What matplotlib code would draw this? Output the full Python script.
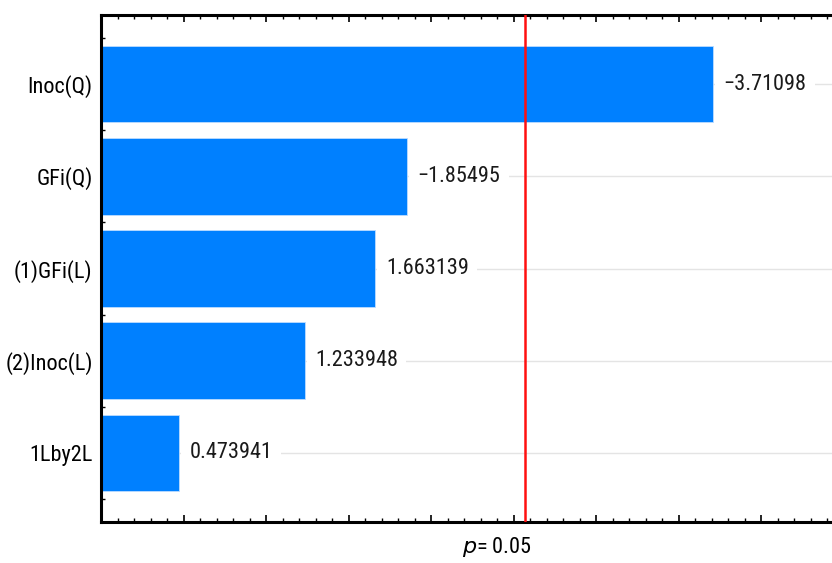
import matplotlib
matplotlib.use('Agg')
import matplotlib.pyplot as plt
from matplotlib.ticker import MultipleLocator, NullFormatter

# standardized effect estimates (absolute value drawn)
labels = ['Inoc(Q)', 'GFi(Q)', '(1)GFi(L)', '(2)Inoc(L)', '1Lby2L']
effects = [-3.71098, -1.85495, 1.663139, 1.233948, 0.473941]
effect_text = ['\u22123.71098', '\u22121.85495', '1.663139', '1.233948', '0.473941']
p_line = 2.570582  # t critical, p = 0.05

plt.rcParams['font.family'] = ['Liberation Sans Narrow', 'Roboto Condensed',
                               'Archivo Narrow', 'Liberation Sans', 'DejaVu Sans']

fig = plt.figure(figsize=(8.32, 5.63), dpi=100)
ax = fig.add_axes([101 / 832, 41 / 563, 792 / 832, 507 / 563])

pos = list(range(len(labels)))
sizes = [abs(e) for e in effects]

for y in pos:
    ax.axhline(y, color='#e4e4e4', lw=1.0, zorder=0)

ax.barh(pos, sizes, height=0.83, color='#0080ff', edgecolor='#bcdcff',
        linewidth=0.6, zorder=2)

for y, s, txt in zip(pos, sizes, effect_text):
    ax.annotate(txt, (s, y), xytext=(7.5, 0), textcoords='offset points',
                ha='left', va='center', fontsize=16, color='#1a1a1a',
                bbox=dict(boxstyle='square,pad=0.38', fc='white', ec='none'),
                zorder=3)

ax.axvline(p_line, color='#ff1010', lw=1.8, zorder=4)

ax.set_xlim(0, 4.8)
ax.set_ylim(len(labels) - 0.25, -0.75)
ax.set_yticks(pos)
ax.set_yticklabels(labels, fontsize=16)
ax.yaxis.set_minor_locator(MultipleLocator(0.25))
ax.xaxis.set_major_locator(MultipleLocator(0.5))
ax.xaxis.set_minor_locator(MultipleLocator(0.1))
ax.xaxis.set_major_formatter(NullFormatter())

ax.tick_params(axis='x', which='major', direction='in', top=True, bottom=True,
               length=5, width=1.2)
ax.tick_params(axis='x', which='minor', direction='in', top=True, bottom=True,
               length=3, width=1.0)
ax.tick_params(axis='y', which='both', direction='in', left=True, right=False,
               length=3, width=1.0, pad=6)

for side in ['left', 'bottom', 'top']:
    ax.spines[side].set_linewidth(2.2)
ax.spines['right'].set_visible(False)

ax.set_xlabel('$p$= 0.05', fontsize=16, labelpad=6)

fig.savefig('out.png', dpi=100)
